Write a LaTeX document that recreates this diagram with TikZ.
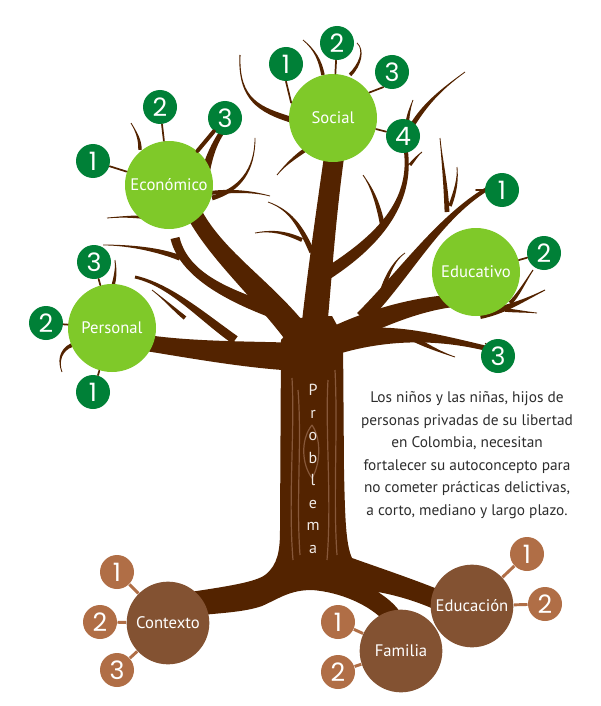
\documentclass[tikz,border=0pt]{standalone}
\usepackage{fontspec}
\setmainfont{PT Sans}
\newfontfamily\digitfont{Poppins}
\usetikzlibrary{calc}
\definecolor{bark}{RGB}{83,35,0}
\definecolor{barklight}{RGB}{135,88,58}
\definecolor{leaf}{RGB}{127,201,41}
\definecolor{leafdark}{RGB}{0,128,55}
\definecolor{rootbig}{RGB}{131,82,50}
\definecolor{rootsmall}{RGB}{176,110,70}
\definecolor{inkgray}{RGB}{45,45,45}
\tikzset{every picture/.style={line width=0.75pt}}
\tikzset{
  bigleaf/.style={circle,fill=leaf,minimum size=66pt,inner sep=0pt,text=white,font=\fontsize{12.5}{14}\selectfont},
  smallleaf/.style={circle,fill=leafdark,minimum size=25.5pt,inner sep=0pt,text=white,font=\digitfont\fontsize{19}{19}\selectfont},
  bigroot/.style={circle,fill=rootbig,minimum size=62pt,inner sep=0pt,text=white,font=\fontsize{12.5}{14}\selectfont},
  smallroot/.style={circle,fill=rootsmall,minimum size=25.5pt,inner sep=0pt,text=white,font=\digitfont\fontsize{19}{19}\selectfont},
  twig/.style={draw=bark,line width=1.3pt,line cap=round},
  rootlink/.style={draw=rootsmall,line width=2.2pt},
  grain/.style={draw=barklight,line width=0.9pt}
}
% tapered branch: start, control, control, end, half width at start, half width at end
\newcommand{\tbranch}[6]{\fill[bark] ($#1!#5!90:#2$) .. controls ($#2!#5!90:#3$) and ($#3!#6!90:#4$) .. ($#4!#6!-90:#3$) -- ($#4!#6!90:#3$) .. controls ($#3!#6!-90:#4$) and ($#2!#5!-90:#3$) .. ($#1!#5!-90:#2$) -- cycle;}

\begin{document}
\begin{tikzpicture}[x=0.75pt,y=0.75pt,yscale=-1,xscale=1]
\useasboundingbox (0,0) rectangle (600,706);

%Shape: Trunk and roots
\fill[bark] (281,340) -- (300,318) -- (332,316) -- (343,336) -- (344,470) .. controls (345,520) and (346,545) .. (352,558) .. controls (380,568) and (410,578) .. (440,590) -- (440,612) .. controls (420,602) and (395,595) .. (378,592) .. controls (390,600) and (400,608) .. (405,622) -- (385,622) .. controls (370,605) and (340,592) .. (312,590) .. controls (290,590) and (280,598) .. (262,606) .. controls (245,612) and (222,613) .. (190,616) -- (190,592) .. controls (230,586) and (255,582) .. (265,575) .. controls (278,565) and (280,550) .. (280,530) -- cycle;

%Shape: Main limbs
\tbranch{(300,357)}{(250,355)}{(190,350)}{(140,342)}{10.5pt}{6pt}
\tbranch{(235,340)}{(200,315)}{(170,285)}{(135,277)}{3.4pt}{1.1pt}
\tbranch{(305,345)}{(270,295)}{(220,260)}{(195,215)}{9.75pt}{6pt}
\tbranch{(200,200)}{(205,170)}{(210,150)}{(222,132)}{3.75pt}{1.9pt}
\tbranch{(292,318)}{(240,300)}{(185,280)}{(175,238)}{5.25pt}{3.4pt}
\tbranch{(312,350)}{(318,290)}{(325,220)}{(335,150)}{9.75pt}{7.5pt}
\tbranch{(325,275)}{(380,240)}{(415,200)}{(405,145)}{4.5pt}{1.5pt}
\tbranch{(330,340)}{(380,315)}{(430,300)}{(470,300)}{8.25pt}{4.5pt}
\tbranch{(480,315)}{(505,310)}{(525,300)}{(545,290)}{3pt}{0.4pt}
\tbranch{(362,318)}{(405,275)}{(440,215)}{(492,186)}{5.25pt}{1.5pt}
\tbranch{(330,345)}{(380,330)}{(430,335)}{(485,348)}{8.25pt}{1.9pt}
\tbranch{(410,337)}{(425,345)}{(440,352)}{(455,357)}{2pt}{0.3pt}

%Shape: Twigs
\tbranch{(292,120)}{(260,110)}{(238,100)}{(240,55)}{2.2pt}{0.4pt}
\tbranch{(305,150)}{(295,157)}{(285,165)}{(277,175)}{1.5pt}{0.3pt}
\tbranch{(323,75)}{(320,60)}{(315,50)}{(303,40)}{1.3pt}{0.3pt}
\tbranch{(350,75)}{(360,65)}{(365,50)}{(357,43)}{1.3pt}{0.3pt}
\tbranch{(407,125)}{(408,115)}{(410,108)}{(413,100)}{1.3pt}{0.3pt}
\tbranch{(413,124)}{(425,105)}{(440,90)}{(465,72)}{1.8pt}{0.3pt}
\tbranch{(383,228)}{(378,200)}{(370,185)}{(363,175)}{1.8pt}{0.3pt}
\tbranch{(410,165)}{(414,160)}{(418,155)}{(422,152)}{1.2pt}{0.3pt}
\tbranch{(447,212)}{(446,185)}{(442,160)}{(440,138)}{1.8pt}{0.3pt}
\tbranch{(450,206)}{(456,190)}{(458,178)}{(457,167)}{1.3pt}{0.3pt}
\tbranch{(380,300)}{(385,280)}{(392,262)}{(405,253)}{2pt}{0.3pt}
\tbranch{(510,303)}{(517,297)}{(525,282)}{(533,270)}{1.5pt}{0.4pt}
\tbranch{(505,310)}{(515,311)}{(527,312)}{(537,313)}{1.3pt}{0.3pt}
\tbranch{(212,198)}{(240,190)}{(255,170)}{(255,138)}{1.8pt}{0.3pt}
\tbranch{(210,193)}{(235,190)}{(255,192)}{(270,196)}{1.5pt}{0.3pt}
\tbranch{(180,258)}{(160,250)}{(130,245)}{(103,245)}{2pt}{0.3pt}
\tbranch{(172,222)}{(150,216)}{(130,216)}{(107,218)}{2pt}{0.3pt}
\tbranch{(140,150)}{(140,140)}{(137,133)}{(131,123)}{1.3pt}{0.3pt}
\tbranch{(112,290)}{(116,275)}{(116,268)}{(115,260)}{1.3pt}{0.3pt}
\tbranch{(72,345)}{(60,350)}{(58,362)}{(62,372)}{1.5pt}{0.3pt}
\tbranch{(185,318)}{(175,310)}{(165,300)}{(152,290)}{1.5pt}{0.3pt}
\tbranch{(312,252)}{(300,225)}{(290,210)}{(268,202)}{2pt}{0.3pt}
\tbranch{(302,240)}{(285,232)}{(270,230)}{(255,233)}{1.5pt}{0.3pt}

%Shape: Bark grain
\draw[grain] (292,378) .. controls (295,430) and (288,500) .. (293,560);
\draw[grain] (298,390) .. controls (302,440) and (296,500) .. (300,555);
\draw[grain] (328,380) .. controls (325,430) and (332,500) .. (327,560);
\draw[grain] (335,370) .. controls (338,430) and (333,500) .. (337,555);
\draw[grain] (312,425) .. controls (300,440) and (302,465) .. (312,478) .. controls (320,465) and (322,440) .. (312,425);

% Text Node
\node[text=white!88!barklight, align=center, font=\fontsize{12}{16.9}\selectfont] (prob) at (313,469) {P\\r\\o\\b\\l\\e\\m\\a};

%Shape: Circles
\node[bigleaf] (soc) at (333,118) {Social};
\node[smallleaf] (soc1) at (286,64) {1};
\node[smallleaf] (soc2) at (337,43) {2};
\node[smallleaf] (soc3) at (392,72) {3};
\node[smallleaf] (soc4) at (403,136) {4};

\node[bigleaf] (eco) at (169,185) {Económico};
\node[smallleaf] (eco1) at (93,161) {1};
\node[smallleaf] (eco2) at (160,107) {2};
\node[smallleaf] (eco3) at (225,118) {3};

\node[bigleaf] (per) at (112,328) {Personal};
\node[smallleaf] (per1) at (93,392) {1};
\node[smallleaf] (per2) at (46,323) {2};
\node[smallleaf] (per3) at (94,262) {3};

\node[bigleaf] (edv) at (476,272) {Educativo};
\node[smallleaf] (edv1) at (502,190) {1};
\node[smallleaf] (edv2) at (544,253) {2};
\node[smallleaf] (edv3) at (498,356) {3};

\node[bigroot] (ctx) at (168,623) {Contexto};
\node[smallroot] (ctx1) at (117,572) {1};
\node[smallroot] (ctx2) at (100,622) {2};
\node[smallroot] (ctx3) at (117,670) {3};

\node[bigroot] (edc) at (472,606) {Educación};
\node[smallroot] (edc1) at (527,554) {1};
\node[smallroot] (edc2) at (545,604) {2};

\node[bigroot] (fam) at (401,651) {Familia};
\node[smallroot] (fam1) at (338,622) {1};
\node[smallroot] (fam2) at (338,672) {2};

%Straight Lines
\draw[twig] (soc1.south) -- (soc.160);
\draw[twig] (soc2) -- (soc);
\draw[twig] (soc3.-120) -- (soc.35);
\draw[twig] (soc4) -- (soc);
\draw[twig] (eco1) -- (eco);
\draw[twig] (eco2) -- (eco);
\draw[twig, line width=3pt] (eco3) -- (eco);
\draw[twig] (per1) -- (per);
\draw[twig] (per2) -- (per);
\draw[twig] (per3) -- (per);
\draw[twig] (edv1) -- (edv1.west -| edv.north);
\draw[twig] (edv2) -- (edv);
\draw[twig] (edv3) -- (edv3.north west);
\draw[rootlink] (ctx1) -- (ctx);
\draw[rootlink] (ctx2) -- (ctx);
\draw[rootlink] (ctx3) -- (ctx);
\draw[rootlink] (edc1) -- (edc);
\draw[rootlink] (edc2) -- (edc);
\draw[rootlink] (fam1) -- (fam);
\draw[rootlink] (fam2) -- (fam);

% Text Node
\node[text=inkgray, align=center, font=\fontsize{11.5}{16.9}\selectfont] (note) at (467,455) {Los niños y las niñas, hijos de\\personas privadas de su libertad\\en Colombia, necesitan\\fortalecer su autoconcepto para\\no cometer prácticas delictivas,\\a corto, mediano y largo plazo.};

\end{tikzpicture}
\end{document}
